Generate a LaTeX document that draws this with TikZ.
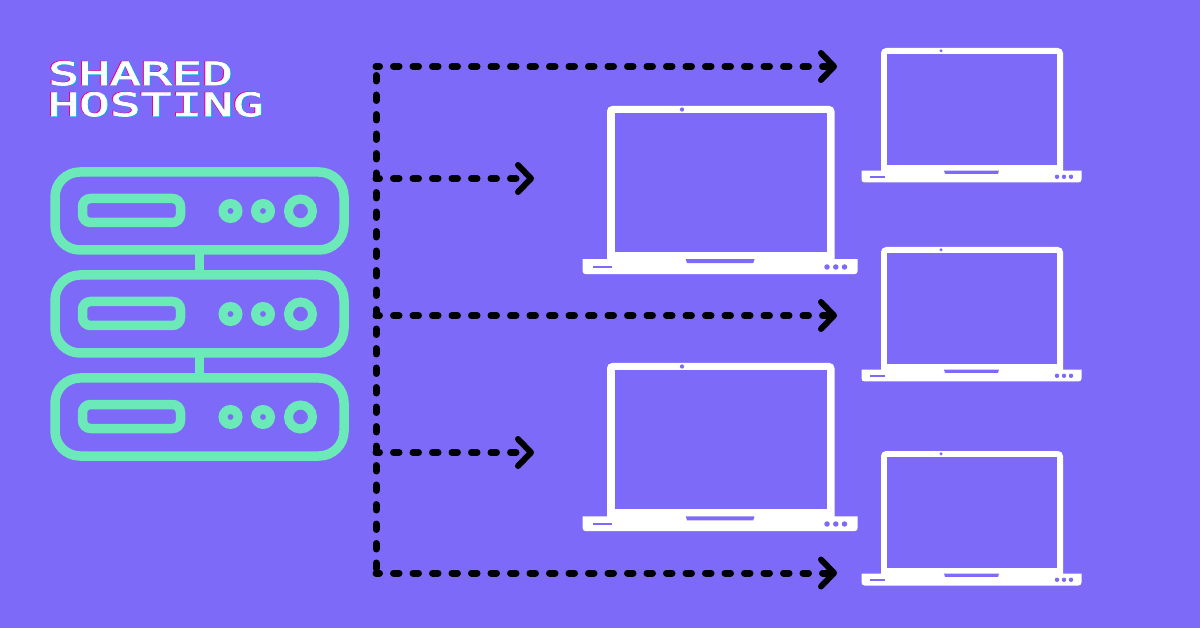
\documentclass[tikz,border=0pt]{standalone}
\usepackage{xcolor}
\usepackage{fontspec}
\usetikzlibrary{arrows.meta}
\newfontfamily\titlefont[FakeStretch=1.6,FakeBold=2.6]{DejaVu Sans Mono}
\definecolor{bgpurple}{HTML}{7E6AF8}
\definecolor{srvgreen}{HTML}{6CE9B8}
\tikzset{
  pics/laptop/.style={
    code={
      \fill[white, rounded corners=5pt] (0,0) rectangle (182,130);
      \fill[bgpurple] (6,6) rectangle (176,117);
      \fill[white] (-19.5,122.6) -- (200.5,122.6) [rounded corners=3pt] -- (200.5,134.5) -- (-19.5,134.5) [sharp corners] -- cycle;
      \fill[bgpurple] (63,122.6) -- (118,122.6) -- (117,125.8) -- (64,125.8) -- cycle;
      \fill[bgpurple] (-11,128.2) rectangle (4,129.6);
      \fill[bgpurple] (176,128.8) circle (2.2);
      \fill[bgpurple] (183,128.8) circle (2.2);
      \fill[bgpurple] (190,128.8) circle (2.2);
      \fill[bgpurple] (60,2.8) circle (1.7);
    }
  }
}

\begin{document}
\begin{tikzpicture}[
  x=1pt, y=-1pt,
  unit/.style={
    rectangle,
    draw=srvgreen,
    line width=9.5pt,
    rounded corners=25pt,
    minimum width=289pt,
    minimum height=78pt,
    inner sep=0pt,
    outer sep=0pt
  },
  slot/.style={
    rectangle,
    draw=srvgreen,
    line width=9.5pt,
    rounded corners=8pt,
    minimum width=98pt,
    minimum height=24pt,
    inner sep=0pt,
    outer sep=0pt
  },
  led/.style={
    circle,
    draw=srvgreen,
    line width=9pt,
    minimum size=15pt,
    inner sep=0pt,
    outer sep=0pt
  },
  bigled/.style={
    led,
    minimum size=24pt
  },
  wire/.style={
    draw=srvgreen,
    line width=9pt
  },
  titletext/.style={
    anchor=base west,
    align=left,
    inner sep=0pt,
    font=\titlefont\fontsize{32}{31}\selectfont
  },
  trunk/.style={
    draw=black,
    line width=7pt,
    line cap=round,
    dash pattern=on 5.5pt off 14pt,
    dash phase=8pt
  },
  link/.style={
    trunk,
    dash phase=2pt,
    -{Straight Barb[length=13pt, width=27pt, line width=6pt, round]}
  }
]

\useasboundingbox (0,0) rectangle (1200,628);
\fill[bgpurple] (0,0) rectangle (1200,628);

% --- TITLE ---
\node[titletext, text=magenta] (titleback) at (47,115.5) {SHARED\\HOSTING};
\node[titletext, text=cyan] (titlefront) at (49,116.5) {SHARED\\HOSTING};
\node[titletext, text=white] (title) at (48,116) {SHARED\\HOSTING};

% --- SERVER (Left Side) ---
\node[unit] (unit_a) at (199.5,211) {};
\node[slot] (slot_a) at (131.5,210.5) {};
\node[led] (led_a1) at (230.5,211) {};
\node[led] (led_a2) at (263,211) {};
\node[bigled] (led_a3) at (300.5,211) {};

\node[unit] (unit_b) at (199.5,314) {};
\node[slot] (slot_b) at (131.5,313.5) {};
\node[led] (led_b1) at (230.5,314) {};
\node[led] (led_b2) at (263,314) {};
\node[bigled] (led_b3) at (300.5,314) {};

\node[unit] (unit_c) at (199.5,417) {};
\node[slot] (slot_c) at (131.5,416.5) {};
\node[led] (led_c1) at (230.5,417) {};
\node[led] (led_c2) at (263,417) {};
\node[bigled] (led_c3) at (300.5,417) {};

\draw[wire] (unit_a) -- (unit_b);
\draw[wire] (unit_b) -- (unit_c);

% --- LAPTOPS (Right Side) ---
\pic[scale=1.25] at (607,106) {laptop};
\pic[scale=1.25] at (607,363) {laptop};
\pic at (881,48) {laptop};
\pic at (881,247) {laptop};
\pic at (881,451) {laptop};

% --- LINKS ---
\coordinate (top) at (376,64);
\coordinate (bottom) at (376,574);
\coordinate (row_a) at (376,66.5);
\coordinate (row_b) at (376,178.5);
\coordinate (row_c) at (376,315.5);
\coordinate (row_d) at (376,452.5);
\coordinate (row_e) at (376,573);
\coordinate (end_a) at (837,66.5);
\coordinate (end_b) at (534,178.5);
\coordinate (end_c) at (837,315.5);
\coordinate (end_d) at (534,452.5);
\coordinate (end_e) at (837,573);

\draw[trunk] (top) -- (bottom);
\draw[link] (row_a) -- (end_a);
\draw[link] (row_b) -- (end_b);
\draw[link] (row_c) -- (end_c);
\draw[link] (row_d) -- (end_d);
\draw[link] (row_e) -- (end_e);

\end{tikzpicture}
\end{document}
